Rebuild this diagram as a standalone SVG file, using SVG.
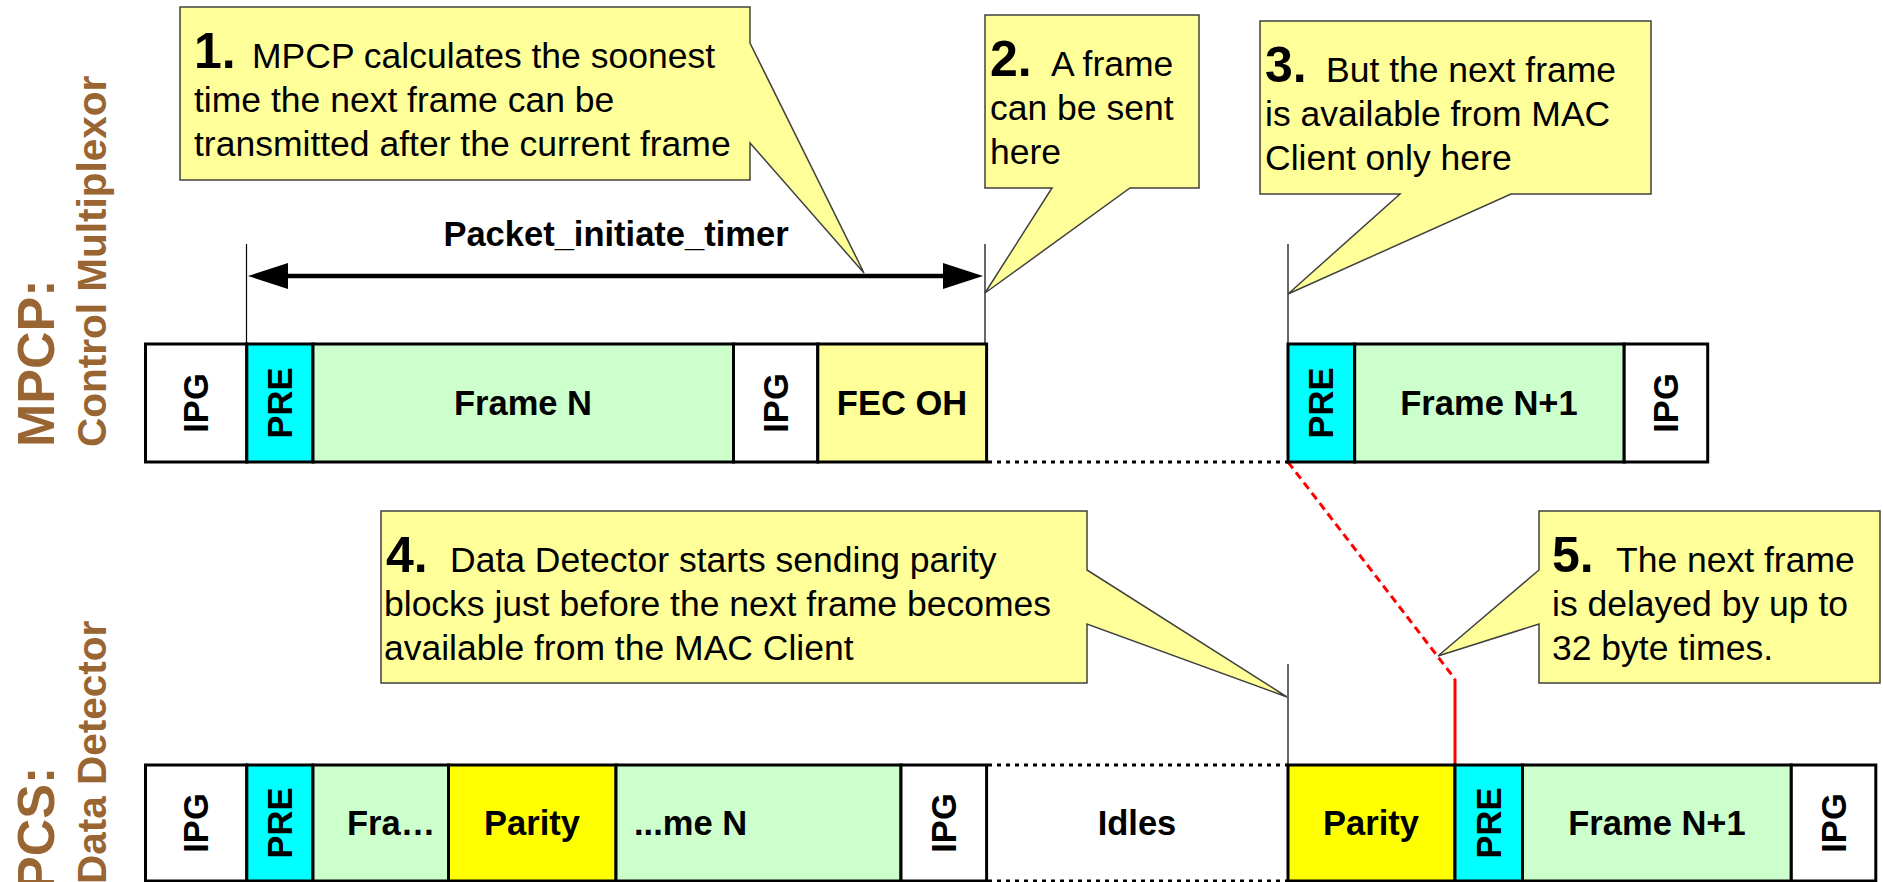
<svg xmlns="http://www.w3.org/2000/svg" width="1883" height="882" viewBox="0 0 1883 882">
<defs>
<style>
.lbl{font-family:"Liberation Sans",Arial,sans-serif;font-weight:bold;font-size:34.5px;fill:#000}
.side{font-family:"Liberation Sans",Arial,sans-serif;font-weight:bold;fill:#996633}
.call{fill:#FFFF99;stroke:#404040;stroke-width:1.5}
.ct{font-family:"Liberation Sans",Arial,sans-serif;font-size:35.5px;fill:#000}
.num{font-weight:bold;font-size:50px}
.cell{stroke:#000;stroke-width:3}
.thin{stroke:#000;stroke-width:1.2;fill:none}
.dot{stroke:#000;stroke-width:3;stroke-dasharray:4 5;fill:none}
.w{fill:#FFFFFF}.c{fill:#00FFFF}.g{fill:#CCFFCC}.y{fill:#FFFF99}.p{fill:#FFFF00}
</style>
<marker id="ah" viewBox="0 0 40 26" refX="20" refY="13" markerWidth="40" markerHeight="26" orient="auto-start-reverse" markerUnits="userSpaceOnUse">
<path d="M0,0 L40,13 L0,26 Z" fill="#000"/>
</marker>
</defs>
<rect width="1883" height="882" fill="#FFFFFF"/>

<!-- side labels -->
<g id="label-mpcp">
<text class="side" font-size="52" transform="translate(54,447) rotate(-90)">MPCP:</text>
<text class="side" font-size="40.5" transform="translate(106,447) rotate(-90)">Control Multiplexor</text>
</g>
<g id="label-pcs">
<text class="side" font-size="52" transform="translate(54,891) rotate(-90)">PCS:</text>
<text class="side" font-size="40.5" transform="translate(106,884) rotate(-90)">Data Detector</text>
</g>

<!-- connectors -->
<g id="connectors">
<line class="thin" x1="246.5" y1="244" x2="246.5" y2="344"/>
<line class="thin" x1="985" y1="244" x2="985" y2="344"/>
<line class="thin" x1="1288" y1="244" x2="1288" y2="344"/>
<line class="thin" x1="1288" y1="664" x2="1288" y2="765"/>
<line x1="268" y1="276" x2="963" y2="276" stroke="#000" stroke-width="4.5" marker-start="url(#ah)" marker-end="url(#ah)"/>
<line class="dot" x1="988" y1="462" x2="1288" y2="462"/>
<line class="dot" x1="988" y1="765" x2="1288" y2="765"/>
<line class="dot" x1="988" y1="881" x2="1288" y2="881"/>
<path d="M1288,462 L1455,679" stroke="#FF0000" stroke-width="3" stroke-dasharray="8 5" fill="none"/>
<path d="M1455,679 V765" stroke="#FF0000" stroke-width="3" fill="none"/>
</g>
<text id="timer-label" class="lbl" x="616" y="246" text-anchor="middle" font-size="35">Packet_initiate_timer</text>

<!-- top row -->
<g id="top-ipg1"><rect class="cell w" x="145.5" y="344" width="101.3" height="118"/><text class="lbl" transform="translate(196,403) rotate(-90)" y="12" text-anchor="middle">IPG</text></g>
<g id="top-pre"><rect class="cell c" x="246.8" y="344" width="66.2" height="118"/><text class="lbl" transform="translate(280,403) rotate(-90)" y="12" text-anchor="middle">PRE</text></g>
<g id="top-frame"><rect class="cell g" x="313" y="344" width="420.5" height="118"/><text class="lbl" x="523" y="415" text-anchor="middle">Frame N</text></g>
<g id="top-ipg2"><rect class="cell w" x="733.5" y="344" width="84.3" height="118"/><text class="lbl" transform="translate(776,403) rotate(-90)" y="12" text-anchor="middle">IPG</text></g>
<g id="top-fec"><rect class="cell y" x="817.8" y="344" width="168.8" height="118"/><text class="lbl" x="902" y="415" text-anchor="middle">FEC OH</text></g>
<g id="top-pre2"><rect class="cell c" x="1288" y="344" width="66.7" height="118"/><text class="lbl" transform="translate(1321,403) rotate(-90)" y="12" text-anchor="middle">PRE</text></g>
<g id="top-frame2"><rect class="cell g" x="1354.7" y="344" width="269.5" height="118"/><text class="lbl" x="1489" y="415" text-anchor="middle">Frame N+1</text></g>
<g id="top-ipg3"><rect class="cell w" x="1624.2" y="344" width="83.5" height="118"/><text class="lbl" transform="translate(1666,403) rotate(-90)" y="12" text-anchor="middle">IPG</text></g>

<!-- bottom row -->
<g id="bot-ipg1"><rect class="cell w" x="145.5" y="765" width="101.3" height="116"/><text class="lbl" transform="translate(196,823) rotate(-90)" y="12" text-anchor="middle">IPG</text></g>
<g id="bot-pre"><rect class="cell c" x="246.8" y="765" width="66.2" height="116"/><text class="lbl" transform="translate(280,823) rotate(-90)" y="12" text-anchor="middle">PRE</text></g>
<g id="bot-fra"><rect class="cell g" x="313" y="765" width="135.5" height="116"/><text class="lbl" x="347" y="835">Fra…</text></g>
<g id="bot-parity1"><rect class="cell p" x="448.5" y="765" width="167.5" height="116"/><text class="lbl" x="532" y="835" text-anchor="middle">Parity</text></g>
<g id="bot-men"><rect class="cell g" x="616" y="765" width="285" height="116"/><text class="lbl" x="634" y="835">...me N</text></g>
<g id="bot-ipg2"><rect class="cell w" x="901" y="765" width="85.6" height="116"/><text class="lbl" transform="translate(944,823) rotate(-90)" y="12" text-anchor="middle">IPG</text></g>
<g id="bot-idles"><text class="lbl" x="1137" y="835" text-anchor="middle">Idles</text></g>
<g id="bot-parity2"><rect class="cell p" x="1288" y="765" width="167" height="116"/><text class="lbl" x="1371" y="835" text-anchor="middle">Parity</text></g>
<g id="bot-pre2"><rect class="cell c" x="1455" y="765" width="67.5" height="116"/><text class="lbl" transform="translate(1489,823) rotate(-90)" y="12" text-anchor="middle">PRE</text></g>
<g id="bot-frame2"><rect class="cell g" x="1522.5" y="765" width="268.8" height="116"/><text class="lbl" x="1657" y="835" text-anchor="middle">Frame N+1</text></g>
<g id="bot-ipg3"><rect class="cell w" x="1791.3" y="765" width="84.5" height="116"/><text class="lbl" transform="translate(1834,823) rotate(-90)" y="12" text-anchor="middle">IPG</text></g>

<!-- callouts -->
<g id="callout1">
<path class="call" d="M180,7 H750 V43 L864,273 L750,143 V180 H180 Z"/>
<text class="ct"><tspan class="num" x="194" y="68">1.</tspan><tspan x="252" y="68">MPCP calculates the soonest</tspan><tspan x="194" y="112">time the next frame can be</tspan><tspan x="194" y="156">transmitted after the current frame</tspan></text>
</g>
<g id="callout2">
<path class="call" d="M985,15 H1199 V188 H1130 L985,293 L1052,188 H985 Z"/>
<text class="ct"><tspan class="num" x="990" y="76">2.</tspan><tspan x="1051" y="76">A frame</tspan><tspan x="990" y="120">can be sent</tspan><tspan x="990" y="164">here</tspan></text>
</g>
<g id="callout3">
<path class="call" d="M1260,21 H1651 V194 H1511 L1288,294 L1400,194 H1260 Z"/>
<text class="ct"><tspan class="num" x="1265" y="82">3.</tspan><tspan x="1326" y="82">But the next frame</tspan><tspan x="1265" y="126">is available from MAC</tspan><tspan x="1265" y="170">Client only here</tspan></text>
</g>
<g id="callout4">
<path class="call" d="M381,511 H1087 V570 L1287,697 L1087,624 V683 H381 Z"/>
<text class="ct"><tspan class="num" x="386" y="572">4.</tspan><tspan x="450" y="572">Data Detector starts sending parity</tspan><tspan x="384" y="616">blocks just before the next frame becomes</tspan><tspan x="384" y="660">available from the MAC Client</tspan></text>
</g>
<g id="callout5">
<path class="call" d="M1539,511 H1880 V683 H1539 V624 L1438,656 L1539,570 Z"/>
<text class="ct"><tspan class="num" x="1552" y="572">5.</tspan><tspan x="1616" y="572">The next frame</tspan><tspan x="1552" y="616">is delayed by up to</tspan><tspan x="1552" y="660">32 byte times.</tspan></text>
</g>
</svg>
